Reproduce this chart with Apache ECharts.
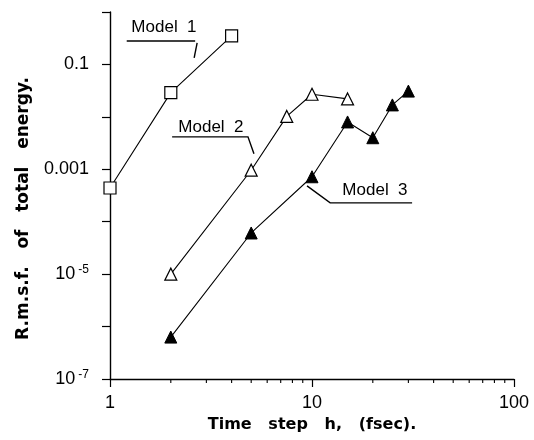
<!DOCTYPE html>
<html>
<head>
<meta charset="utf-8">
<script src="https://cdn.jsdelivr.net/npm/echarts@6/dist/echarts.min.js"></script>
<style>
    html, body { margin: 0; padding: 0; background: #fff; }
    #chart { width: 534px; height: 440px; }
</style>
</head>
<body>
<div id="chart"></div>
<script>
// time step h (fsec) and r.m.s.f.
var model1X = [1, 2, 4];
var model1Y = [4.4e-4, 0.029, 0.35];
var model2X = [2, 5, 7.5, 10, 15];
var model2Y = [1.0e-5, 9.6e-4, 0.0102, 0.027, 0.022];
var model3X = [2, 5, 10, 15, 20, 25, 30];
var model3Y = [6.3e-7, 6.1e-5, 7.2e-4, 8.0e-3, 4.0e-3, 0.0169, 0.031];

// tick labels (exponent -> text)
var xLabelExp = [0, 1, 2];
var xLabelText = ['1', '10', '100'];
var yLabelExp = [-1, -3, -5, -7];
var yLabelText = ['0.1', '0.001', '10{sup|-5}', '10{sup|-7}'];
var xMinorTicks = [2, 3, 4, 5, 6, 7, 8, 9, 20, 30, 40, 50, 60, 70, 80, 90];

// annotations, in data coordinates
var noteNames = ['Model  1', 'Model  2', 'Model  3'];
var notePos = [[1.85, 0.5], [3.16, 0.0064], [20.5, 4.05e-4]];
var noteLines = [
    [[[1.21, 0.28], [2.64, 0.28]], [[2.70, 0.258], [2.61, 0.134]]],
    [[[2.03, 0.00415], [4.82, 0.00415], [5.16, 0.00197]]],
    [[[9.45, 4.82e-4], [12.3, 2.29e-4], [31.3, 2.29e-4]]]
];

var zip = function (xs, ys) {
    return xs.map(function (x, i) {
        return [x, ys[i]];
    });
};
var expOf = function (v) {
    return Math.round(Math.log(v) / Math.LN10);
};

var chart = echarts.init(document.getElementById('chart'), null, {renderer: 'canvas'});
var lineStyle = {color: '#000', width: 1.1};
var openItem = {color: '#fff', borderColor: '#000', borderWidth: 1.2};
var fillItem = {color: '#000', borderColor: '#000', borderWidth: 1};

var option = {
    animation: false,
    backgroundColor: '#fff',
    grid: {left: 110, right: 20, top: 12, bottom: 61},
    xAxis: {
        type: 'log',
        logBase: 10,
        min: 1,
        max: 100,
        name: 'Time   step   h,   (fsec).',
        nameLocation: 'middle',
        nameGap: 37,
        nameTextStyle: {fontFamily: 'DejaVu Sans', fontWeight: 'bold', fontSize: 16, color: '#000'},
        axisLine: {lineStyle: {color: '#000', width: 1.4}},
        axisTick: {show: true, inside: false, length: 8, lineStyle: {color: '#000', width: 1.2}},
        minorTick: {show: false},
        splitLine: {show: false},
        axisLabel: {
            margin: 15,
            fontFamily: 'Liberation Sans',
            fontSize: 18,
            color: '#000',
            formatter: function (v) {
                var i = xLabelExp.indexOf(expOf(v));
                return i >= 0 ? xLabelText[i] : '';
            }
        }
    },
    yAxis: {
        type: 'log',
        logBase: 10,
        min: 1e-7,
        max: 1,
        interval: 1,
        name: 'R.m.s.f.   of   total   energy.',
        nameLocation: 'middle',
        nameGap: 78,
        nameTextStyle: {fontFamily: 'DejaVu Sans', fontWeight: 'bold', fontSize: 17, color: '#000', padding: [0, 26, 0, 0]},
        axisLine: {lineStyle: {color: '#000', width: 1.4}},
        axisTick: {show: true, inside: false, length: 8, lineStyle: {color: '#000', width: 1.2}},
        splitLine: {show: false},
        axisLabel: {
            margin: 21,
            fontFamily: 'Liberation Sans',
            fontSize: 18,
            color: '#000',
            formatter: function (v) {
                var i = yLabelExp.indexOf(expOf(v));
                return i >= 0 ? yLabelText[i] : '';
            },
            rich: {
                sup: {fontFamily: 'Liberation Sans', fontSize: 12, color: '#000', padding: [0, 0, 9, 3]}
            }
        }
    },
    series: [{
        name: 'Model 1',
        type: 'line',
        data: zip(model1X, model1Y),
        symbol: 'rect',
        symbolSize: 12,
        lineStyle: lineStyle,
        itemStyle: openItem,
        z: 3
    }, {
        name: 'Model 2',
        type: 'line',
        data: zip(model2X, model2Y),
        symbol: 'triangle',
        symbolSize: 12,
        lineStyle: lineStyle,
        itemStyle: openItem,
        z: 3
    }, {
        name: 'Model 3',
        type: 'line',
        data: zip(model3X, model3Y),
        symbol: 'triangle',
        symbolSize: 12,
        lineStyle: lineStyle,
        itemStyle: fillItem,
        z: 3
    }, {
        // minor ticks on the time axis
        type: 'custom',
        silent: true,
        data: xMinorTicks.map(function (x) {
            return [x, 1e-7];
        }),
        renderItem: function (params, api) {
            var p = api.coord([api.value(0), api.value(1)]);
            return {
                type: 'line',
                shape: {x1: p[0], y1: p[1], x2: p[0], y2: p[1] + 4},
                style: {stroke: '#000', lineWidth: 1.1}
            };
        },
        clip: false,
        z: 2
    }]
};
chart.setOption(option);

var toPx = function (pt) {
    return chart.convertToPixel({gridIndex: 0}, pt);
};
var graphics = [];
for (var i = 0; i < noteNames.length; ++i) {
    var tp = toPx(notePos[i]);
    graphics.push({
        type: 'text',
        x: tp[0],
        y: tp[1],
        style: {
            text: noteNames[i],
            fontFamily: 'Liberation Sans',
            fontSize: 17,
            fill: '#000',
            align: 'center',
            verticalAlign: 'middle'
        }
    });
    for (var j = 0; j < noteLines[i].length; ++j) {
        graphics.push({
            type: 'polyline',
            shape: {points: noteLines[i][j].map(toPx)},
            style: {stroke: '#000', lineWidth: 1.4, fill: null}
        });
    }
}
chart.setOption({graphic: graphics});
</script>
</body>
</html>
